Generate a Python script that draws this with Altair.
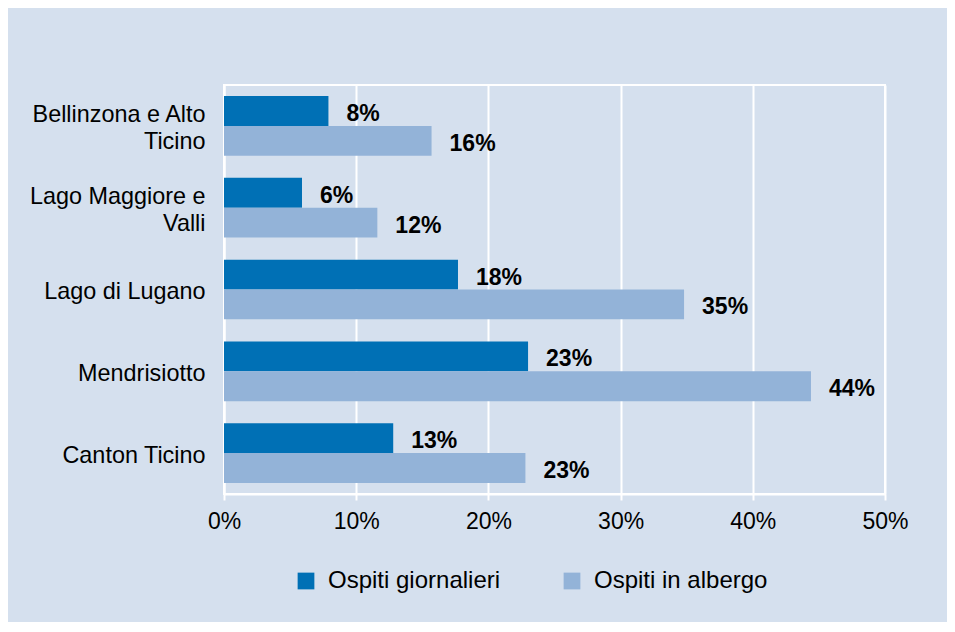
import altair as alt
import pandas as pd

regions = ["Bellinzona e Alto Ticino", "Lago Maggiore e Valli", "Lago di Lugano",
           "Mendrisiotto", "Canton Ticino"]
region_lines = {
    "Bellinzona e Alto Ticino": ["Bellinzona e Alto", "Ticino"],
    "Lago Maggiore e Valli": ["Lago Maggiore e", "Valli"],
}
series = ["Ospiti giornalieri", "Ospiti in albergo"]
giornalieri = [7.9, 5.9, 17.7, 23.0, 12.8]
albergo = [15.7, 11.6, 34.8, 44.4, 22.8]
x_ticks = [0, 10, 20, 30, 40, 50]
colors = ["#0070b5", "#93b3d8"]
bg = "#d5e0ee"
FONT = "Liberation Sans"

rows = []
for i, r in enumerate(regions):
    rows.append({"region": r, "series": series[0], "value": giornalieri[i]})
    rows.append({"region": r, "series": series[1], "value": albergo[i]})
df = pd.DataFrame(rows)

label_expr = ""
for k, v in region_lines.items():
    label_expr += f"datum.label == '{k}' ? {v} : "
label_expr += "datum.label"
multi_test = " || ".join(f"datum.value == '{k}'" for k in region_lines)

y_enc = alt.Y("region:N", sort=regions,
              scale=alt.Scale(paddingInner=0.27, paddingOuter=0.135),
              axis=alt.Axis(title=None, labelExpr=label_expr, ticks=False,
                            domain=True, domainColor="white", domainWidth=2,
                            labelFontSize=23.4, labelFont=FONT, labelColor="black",
                            labelPadding=19, labelLineHeight=26.5, labelLimit=300,
                            labelOffset={"condition": {"test": multi_test, "value": -10.5},
                                         "value": 2.5}))
yoff = alt.YOffset("series:N", sort=series,
                   scale=alt.Scale(paddingInner=0, paddingOuter=0))
x_enc = alt.X("value:Q", scale=alt.Scale(domain=[0, 50], nice=False),
              axis=alt.Axis(title=None, values=x_ticks, labelExpr="datum.value + '%'",
                            grid=True, gridColor="white", gridWidth=2,
                            domainColor="white", domainWidth=2,
                            tickColor="white", tickWidth=2, tickSize=6,
                            labelFontSize=23, labelFont=FONT, labelColor="black",
                            labelPadding=10, labelFlush=False))

bars = alt.Chart(df).mark_bar().encode(
    x=x_enc, y=y_enc, yOffset=yoff,
    color=alt.Color("series:N", sort=series,
                    scale=alt.Scale(domain=series, range=colors),
                    legend=alt.Legend(title=None, orient="none", legendX=70, legendY=484,
                                      direction="horizontal", symbolType="square",
                                      symbolSize=280, symbolStrokeWidth=0,
                                      labelFontSize=24, labelFont=FONT, labelColor="black",
                                      labelOffset=10, columnPadding=59, labelLimit=400)),
)

text = alt.Chart(df).transform_calculate(
    lab="format(datum.value, '.0f') + '%'"
).mark_text(align="left", baseline="middle", dx=18, dy=3, fontSize=23,
            fontWeight="bold", font=FONT, color="black").encode(
    x="value:Q", y=alt.Y("region:N", sort=regions), yOffset=yoff, text="lab:N"
)

chart = alt.layer(bars, text).properties(
    width=661, height=409,
    autosize=alt.AutoSizeParams(type="none"),
    padding={"left": 216, "top": 77, "right": 62, "bottom": 128},
).configure(background=bg).configure_view(stroke="white", strokeWidth=2)

chart.save("out.html", embed_options={"renderer": "svg", "actions": False})
